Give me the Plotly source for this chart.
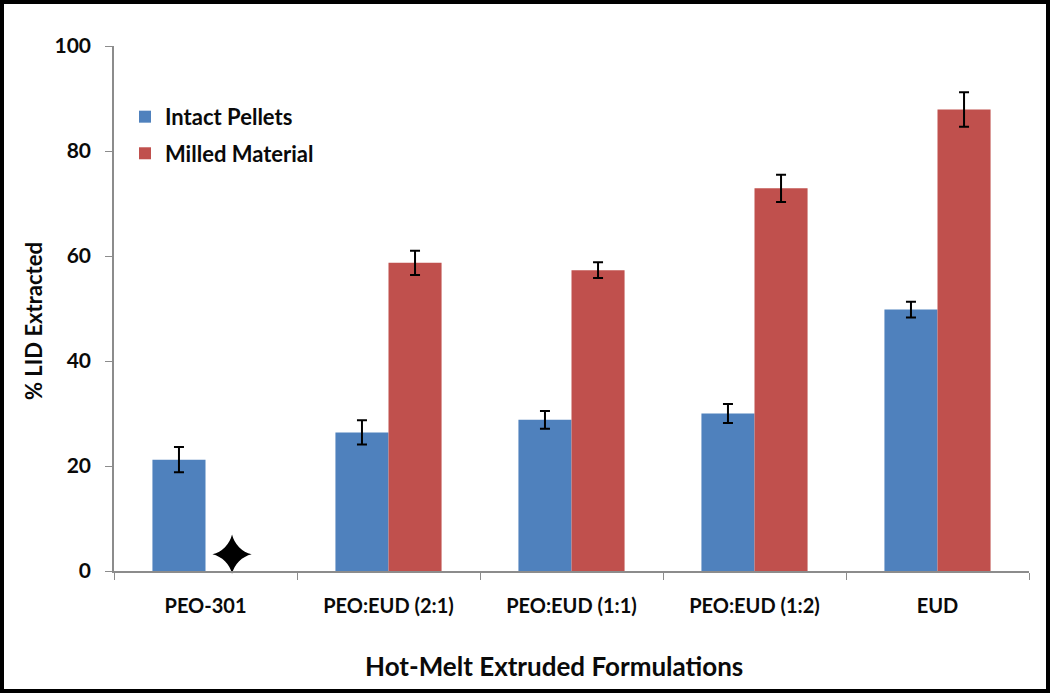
import plotly.graph_objects as go

categories = ["PEO-301", "PEO:EUD (2:1)", "PEO:EUD (1:1)", "PEO:EUD (1:2)", "EUD"]
intact = [21.2, 26.4, 28.8, 30.0, 49.8]
intact_err = [2.4, 2.3, 1.7, 1.8, 1.5]
milled = [None, 58.7, 57.3, 72.9, 87.9]
milled_err = [None, 2.3, 1.5, 2.6, 3.3]
star_category = ["PEO-301"]
star_value = [3.2]
y_ticks = [0, 20, 40, 60, 80, 100]

W, H = 1050, 693
L, R, T, B = 114, 21, 46, 122
FONT = "Lato"
TXT = "#0a0a0a"

fig = go.Figure()
fig.add_trace(go.Bar(
    name="Intact Pellets", x=categories, y=intact, legendgroup="a", offsetgroup="i",
    marker=dict(color="#4F81BD", line=dict(width=0)),
    error_y=dict(type="data", array=intact_err, color="black", thickness=2, width=5),
))
fig.add_trace(go.Bar(
    name="Milled Material", x=categories, y=milled, legendgroup="b", offsetgroup="m",
    marker=dict(color="#C0504D", line=dict(width=0)),
    error_y=dict(type="data", array=milled_err, color="black", thickness=2, width=5),
))
# placeholder so the star is grouped in the Milled Material slot
fig.add_trace(go.Scatter(
    x=star_category, y=[None], mode="markers", offsetgroup="i",
    showlegend=False, hoverinfo="skip",
))
fig.add_trace(go.Scatter(
    x=star_category, y=star_value, mode="markers", offsetgroup="m",
    marker=dict(symbol="star-diamond", size=28, color="black", line=dict(width=0)),
    showlegend=False, cliponaxis=False,
))

def px_x(p):
    return (p - L) / (W - L - R)

def px_y(p):
    return (H - B - p) / (H - T - B)

fig.update_layout(
    width=W, height=H,
    margin=dict(l=L, r=R, t=T, b=B),
    paper_bgcolor="white", plot_bgcolor="white",
    barmode="group", bargap=0.42, bargroupgap=0,
    scattermode="group", scattergap=0.42,
    font=dict(family=FONT, color=TXT),
    showlegend=True,
    legend=dict(
        x=0.012, y=0.905, xanchor="left", yanchor="top",
        font=dict(size=22, family=FONT, color=TXT, weight="bold"),
        bgcolor="rgba(0,0,0,0)", tracegroupgap=5, itemsizing="constant",
    ),
    xaxis=dict(
        showline=True, linecolor="#8c8c8c", linewidth=1.5,
        ticks="outside", tickson="boundaries", ticklen=7, tickcolor="#8c8c8c",
        ticklabelstandoff=16,
        tickfont=dict(size=20, family=FONT, color=TXT, weight="bold"),
        showgrid=False,
    ),
    yaxis=dict(
        range=[0, 100], tickvals=y_ticks,
        showline=True, linecolor="#8c8c8c", linewidth=1.5,
        ticks="outside", ticklen=7, tickcolor="#8c8c8c",
        ticklabelstandoff=10,
        tickfont=dict(size=21, family=FONT, color=TXT, weight="bold"),
        showgrid=False, zeroline=False,
    ),
    annotations=[
        dict(text="Hot-Melt Extruded Formulations", xref="paper", yref="paper",
             x=px_x(554), y=px_y(666), xanchor="center", yanchor="middle",
             showarrow=False, font=dict(size=26, family=FONT, color=TXT, weight="bold")),
        dict(text="% LID Extracted", xref="paper", yref="paper",
             x=px_x(33), y=px_y(321), xanchor="center", yanchor="middle", textangle=-90,
             showarrow=False, font=dict(size=22, family=FONT, color=TXT, weight="bold")),
    ],
    shapes=[dict(
        type="rect", xref="paper", yref="paper",
        x0=px_x(0), x1=px_x(W), y0=px_y(H), y1=px_y(0),
        line=dict(color="black", width=8), fillcolor="rgba(0,0,0,0)", layer="above",
    )],
)

fig.write_html(
    "out.html",
    config={"displayModeBar": False},
    post_script="document.body.style.margin='0';document.body.style.overflow='hidden';",
)
